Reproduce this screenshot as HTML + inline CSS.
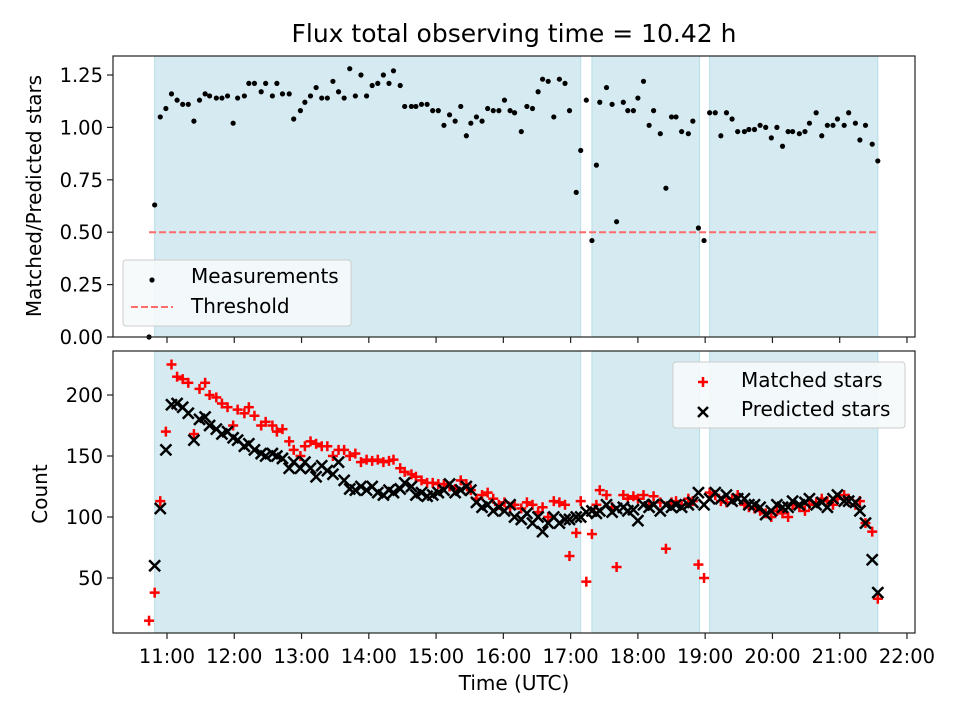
<!DOCTYPE html>
<html><head><meta charset="utf-8"><style>
html,body{margin:0;padding:0;background:#fff}
svg{display:block;font-family:"DejaVu Sans","Liberation Sans",sans-serif}
</style></head><body>
<svg id="fig" width="960" height="720" viewBox="0 0 960 720" xmlns="http://www.w3.org/2000/svg"></svg>
<script>
const times=[44,49,54,59,64,69,74,79,84,89,94,98,104,109,114,119,123,129,133,138,144,148,154,158,163,169,173,179,183,188,193,198,203,208,213,218,223,228,233,238,243,248,253,258,262,268,272,278,282,287,292,297,302,307,312,317,322,327,331,336,341,346,351,356,361,366,370,376,381,386,391,395,400,405,410,415,419,425,429,434,439,443,446,452,457,461,467,471,476,480,485,490,494,500,505,510,514,519,525,529,534,539,544,549,554,559,564,569,575,579,584,589,594,599,604,609,614,618,624,629,633,639,644,649,654,658,664,668,674,678,683,689,694];
const ratios=[0.00,0.63,1.05,1.09,1.16,1.13,1.11,1.11,1.03,1.13,1.16,1.15,1.14,1.14,1.15,1.02,1.14,1.15,1.21,1.21,1.17,1.21,1.15,1.21,1.16,1.16,1.04,1.08,1.12,1.15,1.19,1.14,1.14,1.22,1.17,1.14,1.28,1.15,1.25,1.15,1.20,1.21,1.25,1.21,1.27,1.20,1.10,1.10,1.10,1.11,1.11,1.08,1.08,1.01,1.06,1.03,1.10,0.96,1.02,1.05,1.03,1.09,1.08,1.08,1.13,1.08,1.07,0.98,1.10,1.09,1.17,1.23,1.22,1.05,1.23,1.21,1.08,0.69,0.89,1.13,0.46,0.82,1.12,1.19,1.11,0.55,1.12,1.08,1.08,1.14,1.22,1.01,1.08,0.97,0.71,1.05,1.05,0.98,0.97,1.03,0.52,0.46,1.07,1.07,0.96,1.07,1.04,0.98,0.98,0.99,0.99,1.01,1.00,0.95,1.00,0.91,0.98,0.98,0.97,0.98,1.02,1.07,0.96,1.01,1.01,1.04,1.01,1.07,1.02,0.94,1.01,0.92,0.84];
const matched=[15,38,113,170,225,215,213,210,168,205,210,200,198,193,190,175,188,185,190,183,175,178,175,170,172,162,155,150,158,162,160,158,158,150,155,155,150,152,145,147,146,147,145,146,147,140,137,135,133,130,128,128,127,127,125,123,130,127,122,115,118,120,115,110,112,108,110,107,112,110,104,108,100,113,112,110,68,87,113,47,86,110,122,118,108,59,118,115,117,115,118,110,117,112,74,112,113,110,115,113,61,50,120,118,113,112,115,118,110,108,107,105,103,100,105,103,100,110,108,105,110,112,115,113,110,115,118,115,110,113,95,88,33];
const predicted=[null,60,107,155,192,193,190,185,163,180,182,175,172,168,170,165,163,158,160,155,152,150,152,150,148,140,145,140,145,140,133,142,138,135,145,130,123,122,125,122,125,120,118,122,120,123,128,125,118,120,117,118,120,122,127,120,122,125,122,112,108,110,105,108,105,110,100,98,103,95,100,88,95,100,95,98,98,100,100,104,105,103,105,110,104,107,108,105,106,97,110,108,110,105,110,108,110,108,110,112,120,110,115,120,115,118,113,115,115,110,110,108,102,105,110,108,108,113,110,112,115,110,112,108,115,118,113,113,112,105,95,65,38];
const spans=[[649,1029],[1039,1135],[1144,1294]]; // minutes after 0:00
const xTicks=["11:00","12:00","13:00","14:00","15:00","16:00","17:00","18:00","19:00","20:00","21:00","22:00"];
const yTicksTop=[0,0.25,0.5,0.75,1.0,1.25];
const yTicksBot=[50,100,150,200];
const threshold=0.5;

const NS="http://www.w3.org/2000/svg";
const svg=document.getElementById('fig');
function el(t,a,p){const e=document.createElementNS(NS,t);for(const k in a)e.setAttribute(k,a[k]);(p||svg).appendChild(e);return e;}
const L=113,R=915;
const X=m=>167+(m-60)*67.27/60;
const Yt=v=>337-v*209.6;
const Yb=v=>639-v*1.22;
const panels=[{top:56,bot:337},{top:351,bot:633}];

panels.forEach((p,pi)=>{
  spans.forEach((s,i)=>{
    const x1=X(s[0]-600),x2=X(s[1]-600);
    const r=el('rect',{x:x1,y:p.top,width:x2-x1,height:p.bot-p.top,fill:'#d5ebf1',stroke:'#b8dde8','stroke-width':1});
    
    
  });
});
const th=el('line',{x1:X(44),x2:X(694),y1:Yt(threshold),y2:Yt(threshold),stroke:'#ff6a6a','stroke-width':2,'stroke-dasharray':'7,3'});

const n=Math.min(times.length,ratios.length);
for(let i=0;i<n;i++){
  const c=el('circle',{cx:X(times[i]),cy:Yt(ratios[i]),r:2.6,fill:'#000'});
  
}
function plus(x,y,col,s){const g=el('g',{stroke:col,'stroke-width':2.5});el('line',{x1:x-s,x2:x+s,y1:y,y2:y},g);el('line',{x1:x,x2:x,y1:y-s,y2:y+s},g);return g;}
function cross(x,y,col,s){const g=el('g',{stroke:col,'stroke-width':2.5});el('line',{x1:x-s,x2:x+s,y1:y-s,y2:y+s},g);el('line',{x1:x-s,x2:x+s,y1:y+s,y2:y-s},g);return g;}
for(let i=0;i<Math.min(times.length,matched.length);i++){
  const g=plus(X(times[i]),Yb(matched[i]),'#ff0000',5);
  
}
for(let i=0;i<Math.min(times.length,predicted.length);i++){
  if(predicted[i]==null)continue;
  const g=cross(X(times[i]),Yb(predicted[i]),'#000',5.5);
  
}
panels.forEach((p,pi)=>{
  const f=el('rect',{x:L,y:p.top,width:R-L,height:p.bot-p.top,fill:'none',stroke:'#222','stroke-width':1.2});
  
  xTicks.forEach((t,i)=>{
    const x=X(60+i*60);
    el('line',{x1:x,x2:x,y1:p.bot,y2:p.bot+6,stroke:'#222','stroke-width':1.2});
    if(pi===1){const tx=el('text',{x:x,y:663,'text-anchor':'middle','font-size':19.5});tx.textContent=t;
      }
  });
});
yTicksTop.forEach(v=>{const y=Yt(v);el('line',{x1:L-6,x2:L,y1:y,y2:y,stroke:'#222','stroke-width':1.2});
  const t=el('text',{x:L-10,y:y+7,'text-anchor':'end','font-size':19.5});t.textContent=v.toFixed(2);
  });
yTicksBot.forEach(v=>{const y=Yb(v);el('line',{x1:L-6,x2:L,y1:y,y2:y,stroke:'#222','stroke-width':1.2});
  const t=el('text',{x:L-10,y:y+7,'text-anchor':'end','font-size':19.5});t.textContent=v;
  });
</script>
<script>
(function(){
const NS="http://www.w3.org/2000/svg";const svg=document.getElementById('fig');
function el(t,a,p){const e=document.createElementNS(NS,t);for(const k in a)e.setAttribute(k,a[k]);(p||svg).appendChild(e);return e;}
function txt(x,y,s,a,name){const t=el('text',Object.assign({x:x,y:y},a));t.textContent=s;return t;}
txt(514,42,'Flux total observing time = 10.42 h',{'text-anchor':'middle','font-size':25},'chart-title');
txt(514,690,'Time (UTC)',{'text-anchor':'middle','font-size':20},'x-axis-title');
txt(0,0,'Matched/Predicted stars',{'text-anchor':'middle','font-size':20,transform:'translate(41,196) rotate(-90)'},'y-axis-title-top');
txt(0,0,'Count',{'text-anchor':'middle','font-size':20,transform:'translate(47,494) rotate(-90)'},'y-axis-title-bottom');
const lg=el('g',{});
el('rect',{x:123,y:260,width:228,height:66,rx:3,fill:'#f6f9fb','fill-opacity':0.9,stroke:'#ccc'},lg);
el('circle',{cx:152,cy:280,r:2.6,fill:'#000'},lg);
txt(191,283,'Measurements',{'font-size':20},'legend-entry-measurements');
el('line',{x1:131,x2:173,y1:307,y2:307,stroke:'#ff6a6a','stroke-width':2,'stroke-dasharray':'7,3'},lg);
txt(191,313,'Threshold',{'font-size':20},'legend-entry-threshold');
const lb=el('g',{});
el('rect',{x:673,y:362,width:232,height:66,rx:3,fill:'#f6f9fb','fill-opacity':0.9,stroke:'#ccc'},lb);
const p=el('g',{stroke:'#f00','stroke-width':2.5},lb);el('line',{x1:698,x2:708,y1:382,y2:382},p);el('line',{x1:703,x2:703,y1:377,y2:387},p);
txt(741,387,'Matched stars',{'font-size':20},'legend-entry-matched');
const c=el('g',{stroke:'#000','stroke-width':2.5},lb);el('line',{x1:698,x2:708,y1:407,y2:417},c);el('line',{x1:698,x2:708,y1:417,y2:407},c);
txt(741,416,'Predicted stars',{'font-size':20},'legend-entry-predicted');
})();
</script>
</body></html>
